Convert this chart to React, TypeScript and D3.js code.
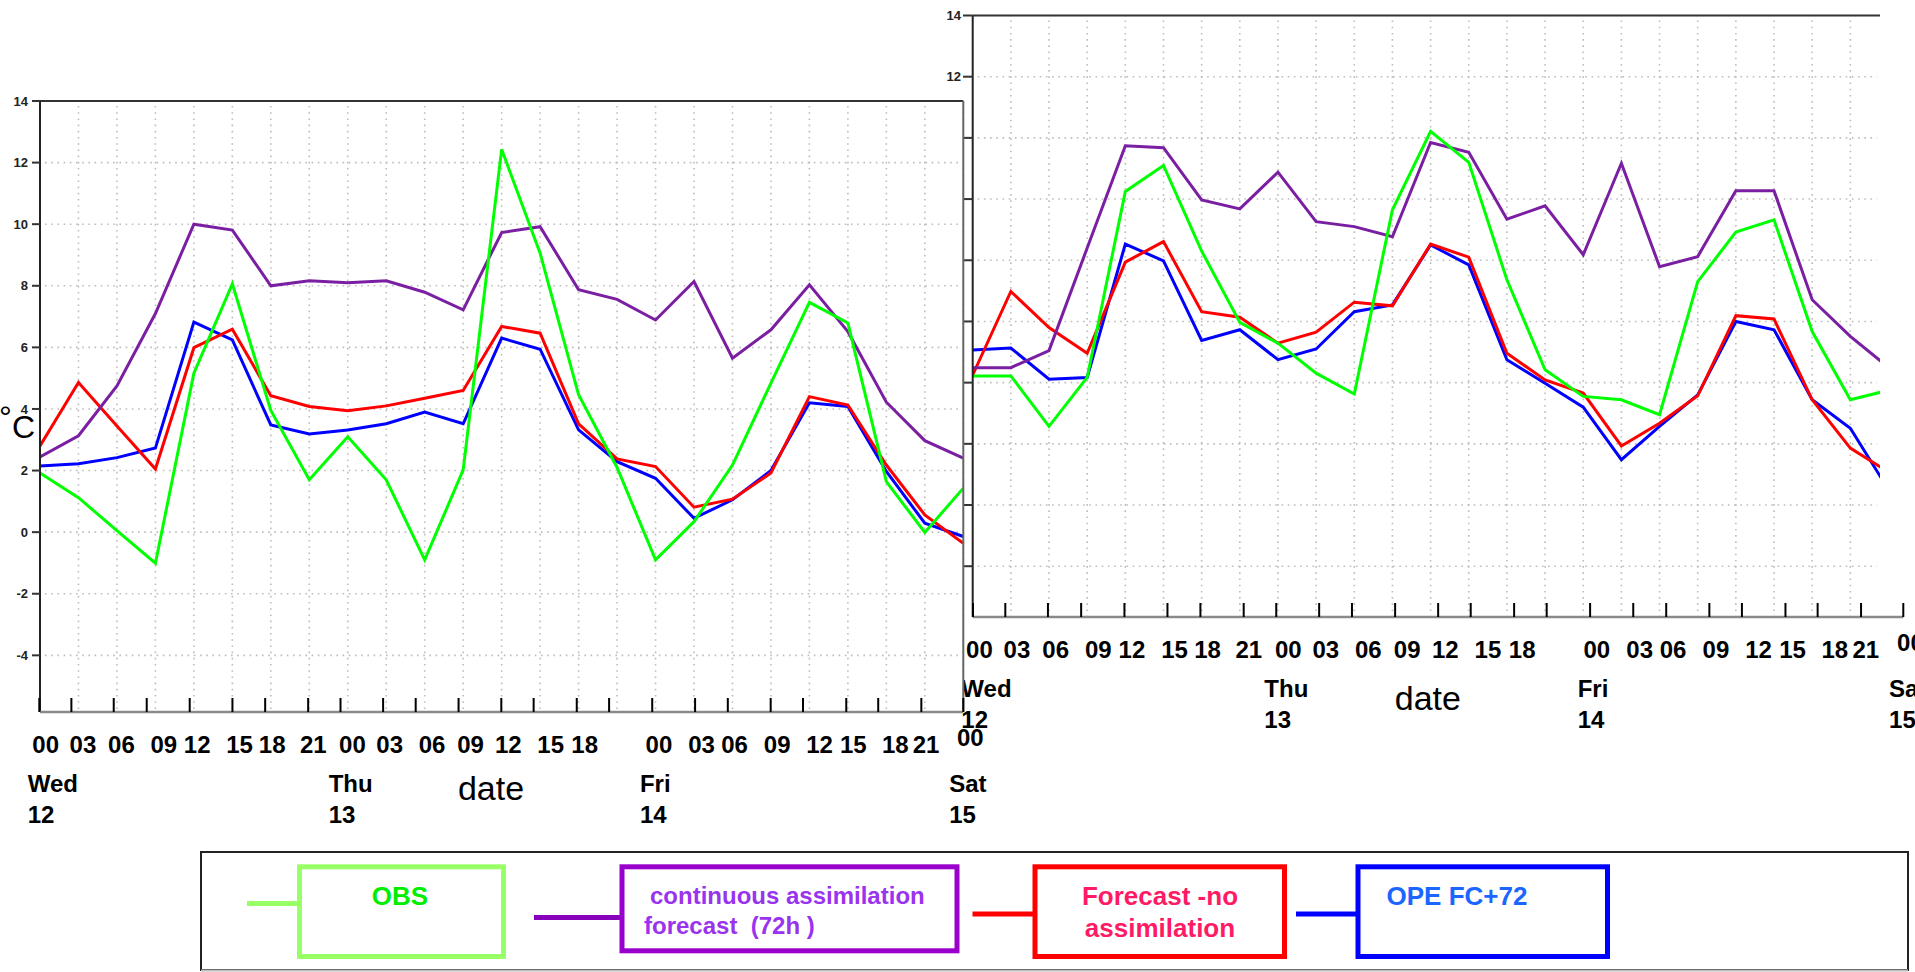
import React, { useEffect } from "react";
import * as d3 from "d3";

// ---------- data (°C, every 3 h from Wed 12 00 to Sat 15 00) ----------
const stepHours = d3.range(0, 73, 3);

const leftObs = [1.92, 1.12, 0.05, -1.01, 5.16, 8.06, 3.95, 1.7, 3.1, 1.7, -0.9, 2.02, 12.43, 9.06, 4.46, 2.1, -0.9, 0.34, 2.18, 4.84, 7.46, 6.79, 1.64, -0.01, 1.43];
const leftCont = [2.44, 3.13, 4.75, 7.1, 10.0, 9.81, 8.0, 8.16, 8.1, 8.16, 7.79, 7.22, 9.73, 9.92, 7.87, 7.56, 6.89, 8.14, 5.65, 6.57, 8.03, 6.51, 4.22, 2.97, 2.4];
const leftNoAssim = [2.8, 4.86, 3.45, 2.05, 5.99, 6.59, 4.43, 4.08, 3.94, 4.1, 4.35, 4.6, 6.68, 6.46, 3.52, 2.38, 2.13, 0.81, 1.07, 1.92, 4.4, 4.13, 2.18, 0.56, -0.36];
const leftOpe = [2.15, 2.22, 2.42, 2.73, 6.82, 6.24, 3.48, 3.19, 3.32, 3.52, 3.9, 3.52, 6.3, 5.94, 3.32, 2.29, 1.75, 0.45, 1.05, 2.0, 4.2, 4.08, 1.97, 0.29, -0.14];

const rightObs = [2.22, 2.22, 0.57, 2.17, 8.25, 9.1, 6.3, 3.97, 3.29, 2.31, 1.63, 7.65, 10.21, 9.2, 5.36, 2.42, 1.55, 1.44, 0.95, 5.3, 6.92, 7.32, 3.67, 1.44, 1.75];
const rightCont = [2.49, 2.49, 3.05, 6.4, 9.74, 9.68, 7.97, 7.68, 8.88, 7.26, 7.1, 6.77, 9.85, 9.53, 7.34, 7.78, 6.18, 9.17, 5.79, 6.12, 8.27, 8.27, 4.71, 3.51, 2.5];
const rightNoAssim = [2.25, 4.98, 3.8, 2.96, 5.94, 6.61, 4.32, 4.14, 3.29, 3.65, 4.63, 4.51, 6.53, 6.1, 2.96, 2.09, 1.66, -0.07, 0.67, 1.57, 4.19, 4.08, 1.44, -0.14, -0.92];
const rightOpe = [3.07, 3.13, 2.11, 2.17, 6.53, 5.98, 3.38, 3.73, 2.75, 3.1, 4.32, 4.54, 6.5, 5.85, 2.75, 1.98, 1.2, -0.52, 0.57, 1.6, 4.0, 3.73, 1.44, 0.51, -1.5];

// ---------- axes text ----------
const yTickValues = [14, 12, 10, 8, 6, 4, 2, 0, -2, -4];
const tickHours = [0, 2.5, 5.8, 8.37, 11.72, 15.05, 17.6, 20.95, 23.47, 26.79, 29.33, 32.67, 36.0, 38.52, 41.88, 44.4, 47.76, 51.1, 53.65, 56.99, 59.51, 62.88, 65.37, 68.73, 72];
const hourLabelText = ["00", "03", "06", "09", "12", "15", "18", "21", "00", "03", "06", "09", "12", "15", "18", "00", "03", "06", "09", "12", "15", "18", "21", "00"];
const hourLabelAt = [0.5, 3.4, 6.4, 9.7, 12.3, 15.6, 18.15, 21.35, 24.4, 27.3, 30.6, 33.6, 36.55, 39.85, 42.5, 48.28, 51.6, 54.18, 57.5, 60.8, 63.43, 66.7, 69.1, 72.55];
const dayNames = ["Wed", "Thu", "Fri", "Sat"];
const dayNumbers = ["12", "13", "14", "15"];
const dayAt = [-0.9, 22.55, 46.8, 70.9];
const xTitle = "date";
const xTitleAt = 35.2;
const yTitleDeg = "°";
const yTitleUnit = "C";

const legendNames = ["OBS", "continuous assimilation", "forecast  (72h )", "Forecast -no", "assimilation", "OPE FC+72"];

const COLORS = { obs: "#00ff00", cont: "#7b1fa2", noAssim: "#ff0000", ope: "#0000ff" };
const FONT = "'Liberation Sans', Arial, Helvetica, sans-serif";

type Cfg = {
  id: string;
  dataRange: [number, number];
  axisRange: [number, number];
  axisY: number;
  topY: number;
  yMin: number;
  plotLeft: number;
  plotRight: number;
  axisRight: number;
  labelX: number;
  tickX0: number;
  tickX1: number;
  dateOffset: number;
  showRightBorder: boolean;
  showAllYLabels: boolean;
  obs: number[];
  cont: number[];
  noAssim: number[];
  ope: number[];
};

function Panel({ c }: { c: Cfg }) {
  const x = d3.scaleLinear().domain([0, 72]).range(c.dataRange);
  const xa = d3.scaleLinear().domain([0, 72]).range(c.axisRange);
  const y = d3.scaleLinear().domain([c.yMin, 14]).range([c.axisY, c.topY]);
  const line = d3
    .line<number>()
    .x((_d, i) => x(stepHours[i]))
    .y((d) => y(d));
  const gridDash = "1.6 4.6";
  const series = [
    { v: c.ope, col: COLORS.ope },
    { v: c.noAssim, col: COLORS.noAssim },
    { v: c.cont, col: COLORS.cont },
    { v: c.obs, col: COLORS.obs },
  ];
  const clipId = "clip-" + c.id;
  return (
    <g>
      <defs>
        <clipPath id={clipId}>
          <rect x={c.plotLeft} y={c.topY - 2} width={c.plotRight - c.plotLeft} height={c.axisY - c.topY + 4} />
        </clipPath>
      </defs>
      <g clipPath={`url(#${clipId})`}>
        {stepHours.slice(1).map((h) => (
          <line key={"vg" + h} x1={x(h)} x2={x(h)} y1={c.topY + 5} y2={c.axisY} stroke="#bdbdbd" strokeWidth={1.6} strokeDasharray={gridDash} />
        ))}
        {yTickValues.slice(1).map((v) => (
          <line key={"hg" + v} x1={c.plotLeft + 5} x2={c.plotRight - 3} y1={y(v)} y2={y(v)} stroke="#bdbdbd" strokeWidth={1.6} strokeDasharray={gridDash} />
        ))}
        {series.map((s, i) => (
          <path key={i} d={line(s.v) || ""} fill="none" stroke={s.col} strokeWidth={3} strokeLinejoin="miter" />
        ))}
      </g>
      {/* frame */}
      <line x1={c.plotLeft} x2={c.plotRight} y1={c.topY} y2={c.topY} stroke="#333" strokeWidth={2} />
      <line x1={c.plotLeft} x2={c.plotLeft} y1={c.topY} y2={c.axisY} stroke="#222" strokeWidth={2} />
      {c.showRightBorder && <line x1={c.plotRight} x2={c.plotRight} y1={c.topY} y2={c.axisY} stroke="#666" strokeWidth={2} />}
      <line x1={c.plotLeft} x2={c.axisRight} y1={c.axisY} y2={c.axisY} stroke="#8a8a8a" strokeWidth={2.5} />
      {/* y ticks */}
      {yTickValues.map((v) => (
        <g key={"yt" + v}>
          <line x1={c.tickX0} x2={c.tickX1} y1={y(v)} y2={y(v)} stroke="#333" strokeWidth={2} />
          {(c.showAllYLabels || v >= 12) && (
            <text x={c.labelX} y={y(v)} dy="0.36em" textAnchor="end" fontFamily={FONT} fontWeight="bold" fontSize={13} fill="#222">
              {v}
            </text>
          )}
        </g>
      ))}
      {/* x ticks */}
      {tickHours.map((h, i) => (
        <line key={"xt" + i} x1={xa(h)} x2={xa(h)} y1={c.axisY - 14} y2={c.axisY} stroke="#000" strokeWidth={2} />
      ))}
      {hourLabelText.map((t, i) => (
        <text
          key={"hl" + i}
          x={xa(hourLabelAt[i])}
          y={c.axisY + (i === hourLabelText.length - 1 ? 34 : 41)}
          textAnchor="middle"
          fontFamily={FONT}
          fontWeight="bold"
          fontSize={24}
          fill="#000"
        >
          {t}
        </text>
      ))}
      {dayNames.map((d, i) => (
        <g key={"dl" + i}>
          <text x={xa(dayAt[i])} y={c.axisY + 80} fontFamily={FONT} fontWeight="bold" fontSize={24} fill="#000">
            {d}
          </text>
          <text x={xa(dayAt[i])} y={c.axisY + 111} fontFamily={FONT} fontWeight="bold" fontSize={24} fill="#000">
            {dayNumbers[i]}
          </text>
        </g>
      ))}
      <text x={xa(xTitleAt)} y={c.axisY + c.dateOffset} textAnchor="middle" fontFamily={FONT} fontSize={34} fill="#000">
        {xTitle}
      </text>
    </g>
  );
}

const rightCfg: Cfg = {
  id: "right",
  dataRange: [972.7, 1888.5],
  axisRange: [973, 1903.3],
  axisY: 617,
  topY: 15.5,
  yMin: -5.66,
  plotLeft: 972.7,
  plotRight: 1880,
  axisRight: 1903.3,
  labelX: 961,
  tickX0: 963,
  tickX1: 972.7,
  dateOffset: 93,
  showRightBorder: false,
  showAllYLabels: true,
  obs: rightObs,
  cont: rightCont,
  noAssim: rightNoAssim,
  ope: rightOpe,
};

const leftCfg: Cfg = {
  id: "left",
  dataRange: [40, 963.3],
  axisRange: [39.3, 963.3],
  axisY: 712,
  topY: 101,
  yMin: -5.84,
  plotLeft: 40,
  plotRight: 963.3,
  axisRight: 963.3,
  labelX: 28,
  tickX0: 32,
  tickX1: 40,
  dateOffset: 88,
  showRightBorder: true,
  showAllYLabels: true,
  obs: leftObs,
  cont: leftCont,
  noAssim: leftNoAssim,
  ope: leftOpe,
};

function Legend() {
  const boxW = 5;
  return (
    <g fontFamily={FONT} fontWeight="bold">
      <rect x={201} y={852} width={1707} height={118} fill="#fff" stroke="#222" strokeWidth={2} />
      <line x1={201} x2={1908} y1={970.5} y2={970.5} stroke="#bbb" strokeWidth={2} />
      {/* OBS */}
      <line x1={247} x2={297} y1={903.5} y2={903.5} stroke="#99ff66" strokeWidth={5} />
      <rect x={299.5} y={866.8} width={204} height={89.7} fill="none" stroke="#99ff66" strokeWidth={boxW} />
      <text x={400} y={905} textAnchor="middle" fontSize={26} fill="#00ee00">{legendNames[0]}</text>
      {/* continuous */}
      <line x1={534} x2={621} y1={917.5} y2={917.5} stroke="#8800bb" strokeWidth={5} />
      <rect x={622} y={866.8} width={335} height={84} fill="none" stroke="#9900cc" strokeWidth={boxW} />
      <text x={650} y={903.5} fontSize={24} fill="#9933ee">{legendNames[1]}</text>
      <text x={644} y={933.5} fontSize={24} fill="#9933ee" style={{ whiteSpace: "pre" }}>{legendNames[2]}</text>
      {/* no assimilation */}
      <line x1={972.5} x2={1033} y1={914} y2={914} stroke="#ff0000" strokeWidth={5} />
      <rect x={1035} y={866.8} width={249.5} height={89.7} fill="none" stroke="#ff0000" strokeWidth={boxW} />
      <text x={1160} y={905} textAnchor="middle" fontSize={26} fill="#ff1a66">{legendNames[3]}</text>
      <text x={1160} y={936.5} textAnchor="middle" fontSize={26} fill="#ff1a66">{legendNames[4]}</text>
      {/* OPE */}
      <line x1={1296} x2={1356} y1={914} y2={914} stroke="#0000ff" strokeWidth={5} />
      <rect x={1358} y={866.8} width={249.5} height={89.7} fill="none" stroke="#0000ff" strokeWidth={boxW} />
      <text x={1457} y={905} textAnchor="middle" fontSize={26} fill="#1a66ff">{legendNames[5]}</text>
    </g>
  );
}

export default function App() {
  useEffect(() => {
    document.body.style.margin = "0";
    document.body.style.overflow = "hidden";
  }, []);
  return (
    <svg width={1915} height={972} style={{ position: "absolute", left: 0, top: 0, display: "block", background: "#fff" }}>
      <rect x={0} y={0} width={1915} height={972} fill="#fff" />
      <Panel c={rightCfg} />
      {/* left chart sits on top of the right one */}
      <rect x={0} y={96} width={963.3} height={616} fill="#fff" />
      <Panel c={leftCfg} />
      <text x={-1} y={428} fontFamily={FONT} fontSize={32} fill="#000">{yTitleDeg}</text>
      <text x={12} y={438} fontFamily={FONT} fontSize={32} fill="#000">{yTitleUnit}</text>
      <Legend />
    </svg>
  );
}
